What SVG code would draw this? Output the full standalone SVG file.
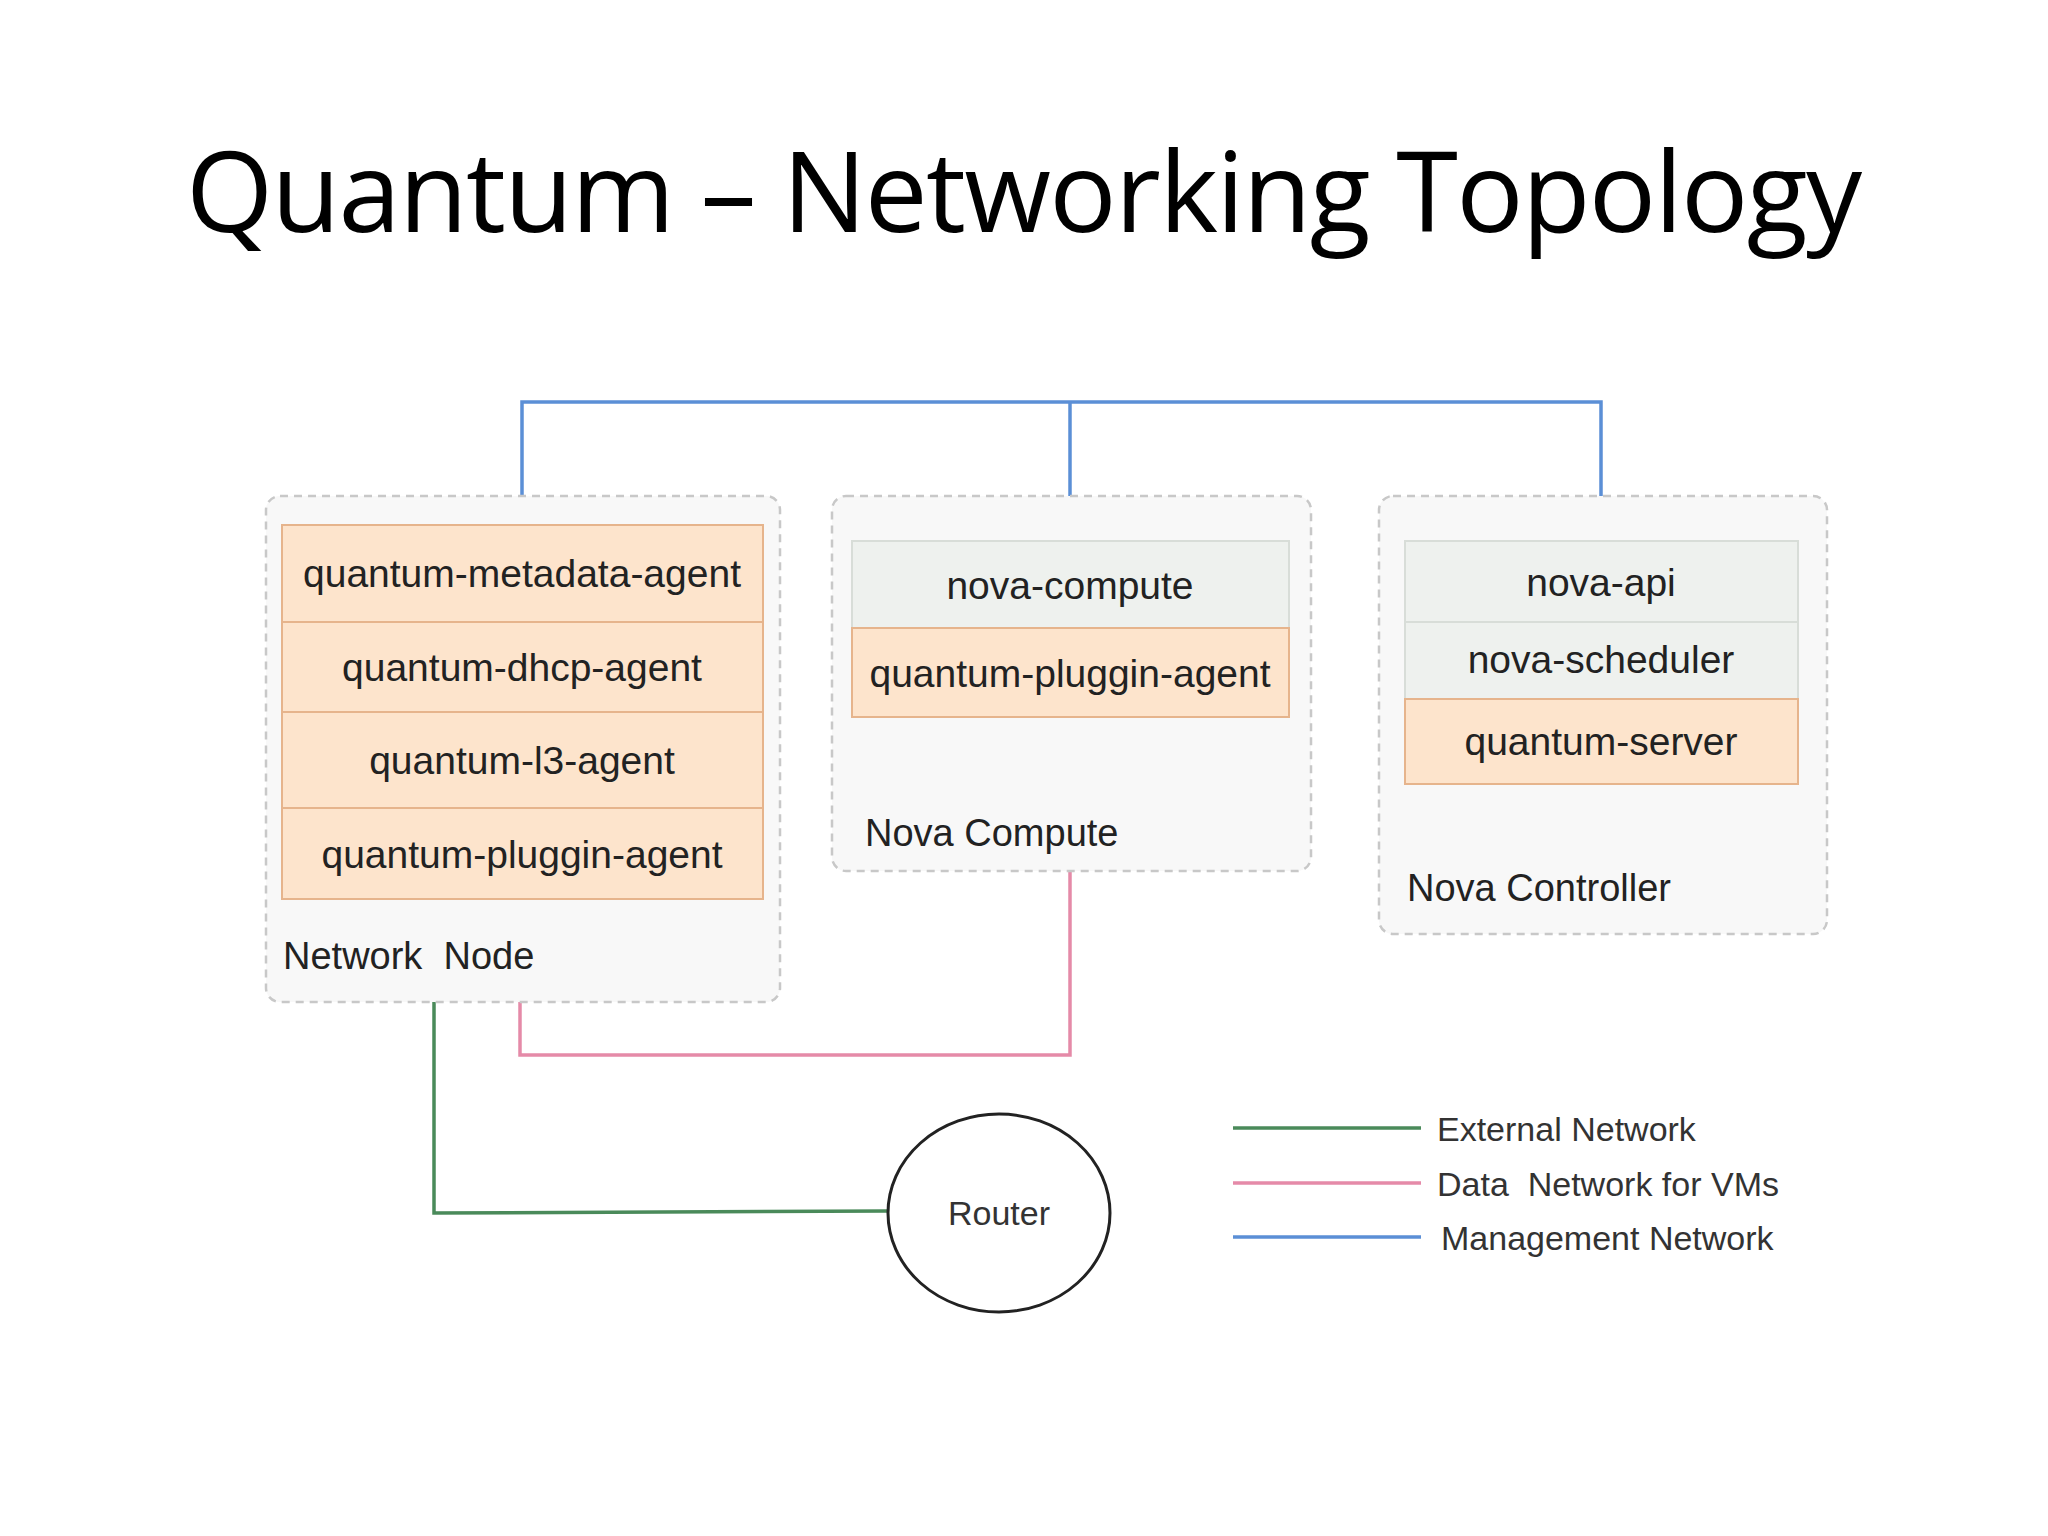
<svg xmlns="http://www.w3.org/2000/svg" width="2048" height="1536" viewBox="0 0 2048 1536">
<style>
.grp{fill:#f8f8f8;stroke:#c8c8c8;stroke-width:2.5;stroke-dasharray:8 6}
.or{fill:#fde4cc;stroke:#e6b48c;stroke-width:2}
.gr{fill:#eef1ee;stroke:#d8ddd8;stroke-width:2}
.t{font-family:"Liberation Sans",Arial,sans-serif;font-size:39px;fill:#222;text-anchor:middle}
.l{font-family:"Liberation Sans",Arial,sans-serif;font-size:38px;fill:#222}
.lg{font-family:"Liberation Sans",Arial,sans-serif;font-size:34px;fill:#333}
.c{fill:none;stroke-width:3.5}
</style>
<rect width="2048" height="1536" fill="#fff"/>
<text x="1024" y="232" font-family="'Open Sans','Noto Sans',sans-serif" font-size="112" fill="#000" text-anchor="middle" textLength="1676">Quantum – Networking Topology</text>
<g id="connectors">
<polyline class="c" stroke="#5b8fd6" points="522,496 522,402 1601,402 1601,496"/>
<line class="c" stroke="#5b8fd6" x1="1070" y1="402" x2="1070" y2="496"/>
<polyline class="c" stroke="#e58aa8" points="1070,871 1070,1055 520,1055 520,1002"/>
<polyline class="c" stroke="#4a8a5a" points="434,1002 434,1213 888,1211"/>
</g>
<g id="network-node">
<rect class="grp" x="266" y="496" width="514" height="506" rx="14"/>
<rect class="or" x="282" y="525" width="481" height="97"/>
<rect class="or" x="282" y="622" width="481" height="90"/>
<rect class="or" x="282" y="712" width="481" height="96"/>
<rect class="or" x="282" y="808" width="481" height="91"/>
<text class="t" x="522" y="587">quantum-metadata-agent</text>
<text class="t" x="522" y="681">quantum-dhcp-agent</text>
<text class="t" x="522" y="774">quantum-l3-agent</text>
<text class="t" x="522" y="868">quantum-pluggin-agent</text>
<text class="l" x="283" y="969" xml:space="preserve">Network  Node</text>
</g>
<g id="nova-compute">
<rect class="grp" x="832" y="496" width="479" height="375" rx="14"/>
<rect class="gr" x="852" y="541" width="437" height="87"/>
<rect class="or" x="852" y="628" width="437" height="89"/>
<text class="t" x="1070" y="599">nova-compute</text>
<text class="t" x="1070" y="687">quantum-pluggin-agent</text>
<text class="l" x="865" y="846">Nova Compute</text>
</g>
<g id="nova-controller">
<rect class="grp" x="1379" y="496" width="448" height="438" rx="14"/>
<rect class="gr" x="1405" y="541" width="393" height="81"/>
<rect class="gr" x="1405" y="622" width="393" height="77"/>
<rect class="or" x="1405" y="699" width="393" height="85"/>
<text class="t" x="1601" y="596">nova-api</text>
<text class="t" x="1601" y="673">nova-scheduler</text>
<text class="t" x="1601" y="755">quantum-server</text>
<text class="l" x="1407" y="901">Nova Controller</text>
</g>
<g id="router">
<ellipse cx="999" cy="1213" rx="111" ry="99" fill="#fff" stroke="#222" stroke-width="3"/>
<text class="lg" x="999" y="1225" text-anchor="middle">Router</text>
</g>
<g id="legend">
<line class="c" stroke="#4a8a5a" x1="1233" y1="1128" x2="1421" y2="1128"/>
<line class="c" stroke="#e58aa8" x1="1233" y1="1183" x2="1421" y2="1183"/>
<line class="c" stroke="#5b8fd6" x1="1233" y1="1237" x2="1421" y2="1237"/>
<text class="lg" x="1437" y="1141">External Network</text>
<text class="lg" x="1437" y="1196" xml:space="preserve">Data  Network for VMs</text>
<text class="lg" x="1441" y="1250">Management Network</text>
</g>
</svg>
